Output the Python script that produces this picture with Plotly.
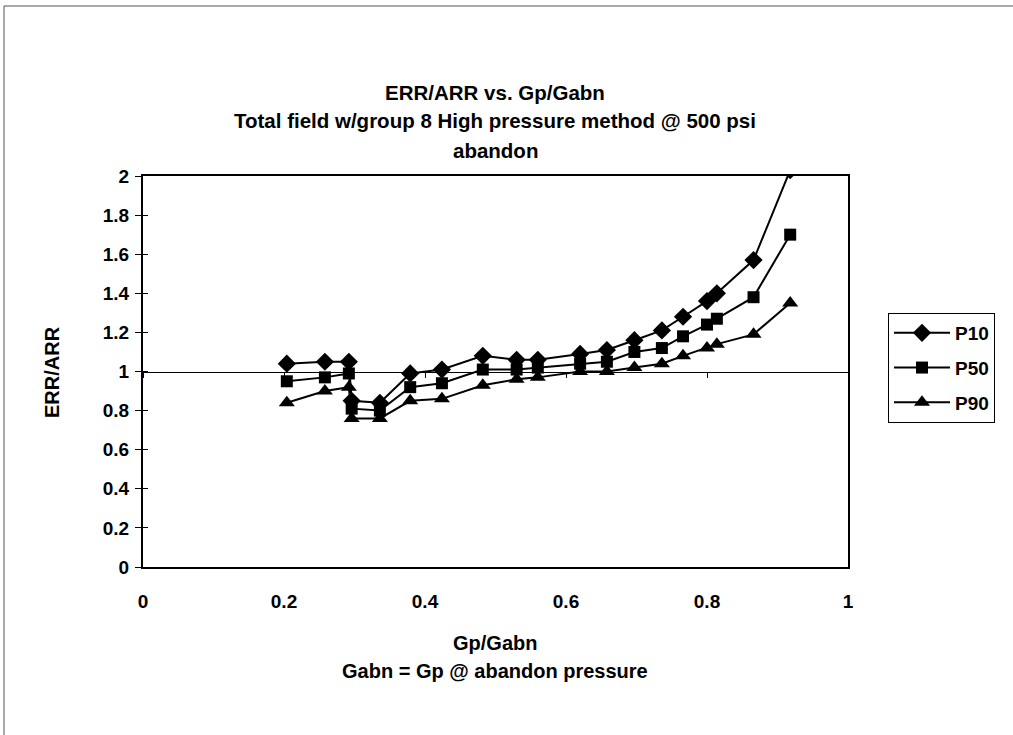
import plotly.graph_objects as go

# ---- data ----
gp_gabn = [0.204, 0.258, 0.292, 0.296, 0.336, 0.379, 0.424, 0.482, 0.530, 0.560,
           0.620, 0.658, 0.697, 0.736, 0.766, 0.800, 0.814, 0.866, 0.918]
p10 = [1.04, 1.05, 1.05, 0.85, 0.84, 0.99, 1.01, 1.08, 1.06, 1.06,
       1.09, 1.11, 1.16, 1.21, 1.28, 1.36, 1.40, 1.57, 2.03]
p50 = [0.95, 0.97, 0.99, 0.81, 0.80, 0.92, 0.94, 1.01, 1.01, 1.02,
       1.04, 1.05, 1.10, 1.12, 1.18, 1.24, 1.27, 1.38, 1.70]
p90 = [0.84, 0.90, 0.92, 0.76, 0.76, 0.85, 0.86, 0.93, 0.96, 0.97,
       1.00, 1.00, 1.02, 1.04, 1.08, 1.12, 1.14, 1.19, 1.35]
series_names = ["P10", "P50", "P90"]
series_symbols = ["diamond", "square", "triangle-up"]
series_sizes = [14, 12, 14]

x_tick_vals = [0, 0.2, 0.4, 0.6, 0.8, 1]
x_tick_text = ["0", "0.2", "0.4", "0.6", "0.8", "1"]
y_tick_vals = [0, 0.2, 0.4, 0.6, 0.8, 1, 1.2, 1.4, 1.6, 1.8, 2]
y_tick_text = ["0", "0.2", "0.4", "0.6", "0.8", "1", "1.2", "1.4", "1.6", "1.8", "2"]

title_lines = ["ERR/ARR vs. Gp/Gabn",
               "Total field w/group 8 High pressure method @ 500 psi",
               "abandon"]
x_title_lines = ["Gp/Gabn", "Gabn = Gp @ abandon pressure"]
y_title = "ERR/ARR"

# ---- layout geometry (pixels) ----
W, H = 1013, 735
L, R, T, B = 143, 165, 176, 168
PW, PH = W - L - R, H - T - B
FONT = "Liberation Sans"


def px(xp):
    return (xp - L) / PW


def py(yp):
    return (H - B - yp) / PH


fig = go.Figure()
for name, ys, sym, sz in zip(series_names, [p10, p50, p90], series_symbols, series_sizes):
    fig.add_trace(go.Scatter(
        x=gp_gabn, y=ys, name=name, mode="lines+markers",
        legendgroup=name,
        line=dict(color="black", width=2),
        marker=dict(symbol=sym, size=sz, color="black"),
    ))

# helper trace for the overlay axes (line at y = 1 and inner ticks)
fig.add_trace(go.Scatter(x=[None], y=[None], xaxis="x2", yaxis="y2",
                         showlegend=False, hoverinfo="skip"))

tick_font = dict(family=FONT, size=19, color="black", weight="bold")

fig.update_layout(
    width=W, height=H,
    margin=dict(l=L, r=R, t=T, b=B),
    paper_bgcolor="white", plot_bgcolor="white",
    font=dict(family=FONT, color="black"),
    xaxis=dict(range=[0, 1], showline=True, linewidth=2, linecolor="black", mirror=True,
               ticks="", tickvals=x_tick_vals, ticktext=x_tick_text, tickfont=tick_font,
               ticklabelstandoff=16, showgrid=False, zeroline=False, fixedrange=True),
    yaxis=dict(range=[0, 2], showline=True, linewidth=2, linecolor="black", mirror=True,
               ticks="outside", ticklen=6, tickwidth=1, tickcolor="black",
               tickvals=y_tick_vals, ticktext=y_tick_text, tickfont=tick_font,
               ticklabelstandoff=2,
               showgrid=False, zeroline=False, fixedrange=True),
    xaxis2=dict(overlaying="x", anchor="free", position=0.5, range=[0, 1],
                showline=True, linewidth=1, linecolor="black",
                ticks="outside", ticklen=5, tickwidth=1, tickcolor="black",
                tickvals=x_tick_vals, showticklabels=False,
                showgrid=False, zeroline=False, fixedrange=True),
    yaxis2=dict(overlaying="y", anchor="x", side="left", range=[0, 2],
                ticks="inside", ticklen=5, tickwidth=1, tickcolor="black",
                tickvals=y_tick_vals, showticklabels=False, showline=False,
                showgrid=False, zeroline=False, fixedrange=True),
    legend=dict(x=px(888), y=py(313), xanchor="left", yanchor="top",
                bordercolor="black", borderwidth=1, bgcolor="white",
                font=dict(family=FONT, size=19, color="black", weight="bold"),
                traceorder="grouped", tracegroupgap=7, itemwidth=56),
    showlegend=True,
)

annotations = []
for text, yy in zip(title_lines, [92, 121, 150]):
    annotations.append(dict(text=text, x=px(495), y=py(yy), xref="paper", yref="paper",
                            xanchor="center", yanchor="middle", showarrow=False,
                            font=dict(family=FONT, size=20.5, color="black", weight="bold")))
for text, yy in zip(x_title_lines, [643, 671]):
    annotations.append(dict(text=text, x=px(495), y=py(yy), xref="paper", yref="paper",
                            xanchor="center", yanchor="middle", showarrow=False,
                            font=dict(family=FONT, size=20, color="black", weight="bold")))
annotations.append(dict(text=y_title, x=px(52), y=py(372), xref="paper", yref="paper",
                        xanchor="center", yanchor="middle", showarrow=False, textangle=-90,
                        font=dict(family=FONT, size=20, color="black", weight="bold")))
fig.update_layout(annotations=annotations)

# outer chart frame (left and top edges visible in the scan)
fig.update_layout(shapes=[
    dict(type="line", xref="paper", yref="paper", x0=px(4), x1=px(4), y0=py(735), y1=py(6),
         line=dict(color="#555555", width=1)),
    dict(type="line", xref="paper", yref="paper", x0=px(4), x1=px(1013), y0=py(6), y1=py(6),
         line=dict(color="#555555", width=1)),
])

fig.write_html(
    "out.html",
    config={"displayModeBar": False},
    post_script="document.body.style.margin='0';document.body.style.overflow='hidden';",
)
